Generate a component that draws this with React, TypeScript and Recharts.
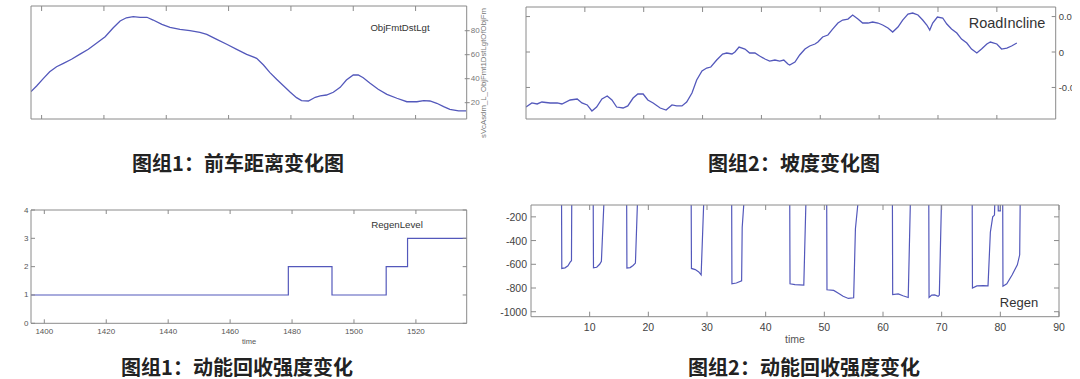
import { LineChart, Line, XAxis, YAxis } from 'recharts'

// panel 1: distance to front vehicle
const objX = [8.3, 9.2, 10.3, 11.3, 12.4, 13.5, 14.8, 16.1, 17.5, 18.8, 20.2, 21.5, 22.6, 23.6, 24.7, 25.8, 26.9, 27.9, 29.3, 30.6, 32.2, 33.8, 35.4, 36.5, 38.1, 39.7, 41.3, 42.9, 44.5, 45.6, 46.6, 47.7, 48.8, 49.9, 50.9, 51.7, 52.8, 53.9, 54.7, 55.7, 56.8, 57.9, 58.9, 60.0, 60.8, 61.6, 62.7, 64.0, 65.4, 67.0, 68.6, 70.2, 71.3, 72.3, 73.4, 74.5, 75.5, 76.9, 78.1]
const objDist = [29.2, 33.9, 40.3, 45.8, 50, 52.8, 56.2, 60.3, 64.5, 69.5, 75, 82.5, 88.1, 90.8, 91.7, 91.2, 91.2, 88.9, 85.3, 82.8, 81.2, 80, 78.7, 77, 72.8, 68.7, 64.5, 60.3, 57, 51.4, 45.3, 39.5, 34.2, 28.7, 24.2, 21.7, 21.4, 24.5, 25.6, 26.4, 28.7, 32.8, 38.9, 43.1, 43.1, 40.8, 36.2, 31.2, 27, 23.7, 20.8, 20.8, 21.7, 21.4, 19.5, 16.7, 14.5, 13.1, 13.1]
const objXTicks = [10, 20, 30, 40, 50, 60, 70]
const objYTicks = [20, 40, 60, 80]

// panel 2: road incline
const inclX = [0, 1.0, 1.9, 2.7, 4.1, 5.3, 6.1, 7.5, 8.7, 9.5, 10.4, 11.2, 12.0, 12.9, 13.8, 14.6, 15.4, 16.5, 17.3, 18.2, 19.0, 19.9, 20.7, 21.6, 22.8, 23.8, 24.8, 25.6, 26.5, 27.3, 28.2, 29.0, 29.9, 30.7, 31.4, 32.4, 33.4, 34.1, 35.0, 35.5, 36.2, 37.2, 38.0, 38.9, 39.7, 40.6, 41.4, 42.3, 43.1, 43.8, 44.5, 44.8, 45.7, 46.5, 47.4, 48.2, 49.1, 49.6, 50.4, 51.3, 52.1, 53.0, 53.8, 54.7, 55.5, 56.4, 57.2, 58.1, 58.9, 59.8, 60.6, 61.5, 62.3, 63.2, 64.0, 64.9, 65.7, 66.6, 67.4, 68.1, 68.6, 69.1, 69.9, 70.8, 71.5, 72.3, 73.2, 74.0, 74.9, 75.7, 76.6, 77.4, 78.3, 78.9, 80.0, 80.8, 81.7, 82.5, 83.4]
const inclVal = [-0.0776, -0.0719, -0.0733, -0.0705, -0.0719, -0.0719, -0.0733, -0.0677, -0.0663, -0.0719, -0.0747, -0.0832, -0.0776, -0.0663, -0.062, -0.0677, -0.0776, -0.079, -0.076, -0.0649, -0.0592, -0.0592, -0.0677, -0.0719, -0.079, -0.0818, -0.0747, -0.076, -0.076, -0.0705, -0.0578, -0.0395, -0.0268, -0.0226, -0.0212, -0.0113, -0.0028, -0.0014, -0.0028, 0, 0.007, 0.0042, -0.0014, -0.0014, -0.0056, -0.0099, -0.0127, -0.0113, -0.0127, -0.0113, -0.0169, -0.0183, -0.0141, -0.0042, 0.0042, 0.0085, 0.0113, 0.0141, 0.0212, 0.024, 0.0324, 0.0409, 0.0451, 0.0465, 0.0522, 0.0465, 0.0409, 0.0409, 0.0423, 0.0409, 0.0381, 0.0338, 0.0282, 0.0353, 0.0451, 0.0536, 0.055, 0.0522, 0.0451, 0.0381, 0.031, 0.0409, 0.0494, 0.048, 0.0395, 0.0324, 0.0268, 0.0183, 0.0127, 0.0042, -0.0014, 0.0042, 0.0113, 0.0141, 0.0113, 0.0042, 0.0056, 0.0085, 0.0127]
const inclXTicks = [10, 20, 30, 40, 50, 60, 70, 80]
const inclYTicks = [-0.05, 0, 0.05]

// panel 3: regen level (step)
const levelT = [1395.7, 1478.8, 1492.9, 1510.4, 1517.3, 1536.4]
const levelVal = [1, 2, 1, 2, 3, 3]
const levelXTicks = [1400, 1420, 1440, 1460, 1480, 1500, 1520]
const levelYTicks = [0, 1, 2, 3, 4]

// panel 4: regen torque
const regenT = [0, 5.2, 5.25, 5.8, 6.3, 6.7, 6.9, 6.95, 10.6, 10.65, 11.2, 11.7, 12.0, 12.5, 16.3, 16.35, 16.9, 17.4, 17.8, 18.2, 27.3, 27.35, 28.0, 28.6, 29.0, 29.5, 34.2, 34.25, 35.0, 35.9, 36.0, 36.4, 44.1, 44.15, 45.0, 46.5, 46.9, 50.4, 50.45, 51.6, 52.4, 53.2, 54.1, 55.0, 55.3, 55.9, 61.6, 61.65, 62.6, 63.4, 64.3, 64.7, 67.8, 67.85, 68.3, 68.8, 69.4, 69.6, 70.0, 75.2, 75.25, 76.0, 77.1, 77.9, 78.3, 78.7, 79.0, 79.1, 79.6, 79.65, 80.0, 80.05, 80.4, 80.45, 81.1, 82.0, 82.9, 83.3, 83.4, 90]
const regenVal = [0, 0, -635, -630, -612, -580, -570, 0, 0, -630, -625, -600, -575, 0, 0, -632, -628, -610, -590, 0, 0, -635, -645, -665, -690, 0, 0, -765, -758, -740, -290, 0, 0, -765, -772, -775, 0, 0, -815, -820, -845, -870, -888, -882, -300, 0, 0, -855, -850, -865, -880, 0, 0, -880, -860, -858, -870, -860, 0, 0, -800, -782, -780, -782, -330, -200, -185, 0, 0, -150, -150, 0, 0, -785, -765, -690, -605, -520, 0, 0]
const regenXTicks = [10, 20, 30, 40, 50, 60, 70, 80, 90]
const regenYTicks = [-1000, -800, -600, -400, -200]

const FRAME = '#8a8a8a'
const LINE = '#5358bb'
const SANS = 'Liberation Sans, Arial, sans-serif'

type Side = 'top' | 'bottom' | 'left' | 'right'
type TickOpts = { len?: number; out?: number; label?: boolean; font?: number; gap?: number; fill?: string }

// ticks point into the plot (matlab style), labels sit outside
function makeTick(side: Side, o: TickOpts = {}) {
  const len = o.len ?? 4
  const out = o.out ?? 0
  const gap = o.gap ?? 4
  return (p: any) => {
    const { x, y, payload } = p
    const txt = String(payload.value)
    let line
    let text = null
    const ts = { fontSize: o.font ?? 8, fill: o.fill ?? '#555', fontFamily: SANS }
    if (side === 'bottom') {
      line = <line x1={x} x2={x} y1={y + out} y2={y - len} stroke={FRAME} />
      if (o.label) text = <text x={x} y={y + gap} textAnchor="middle" dominantBaseline="central" style={ts}>{txt}</text>
    } else if (side === 'top') {
      line = <line x1={x} x2={x} y1={y - out} y2={y + len} stroke={FRAME} />
    } else if (side === 'left') {
      line = <line x1={x - out} x2={x + len} y1={y} y2={y} stroke={FRAME} />
      if (o.label) text = <text x={x - gap} y={y} textAnchor="end" dominantBaseline="central" style={ts}>{txt}</text>
    } else {
      line = <line x1={x + out} x2={x - len} y1={y} y2={y} stroke={FRAME} />
      if (o.label) text = <text x={x + gap} y={y} textAnchor="start" dominantBaseline="central" style={ts}>{txt}</text>
    }
    return <g>{line}{text}</g>
  }
}

type PanelProps = {
  left: number; top: number; width: number; height: number
  // plot box inside the chart svg
  box: { top: number; right: number; bottom: number; left: number }
  data: { x: number; y: number }[]
  xDomain: [number, number]; yDomain: [number, number]
  xTicks: number[]; yTicks: number[]
  ticks: Record<Side, any>
  step?: boolean
  strokeWidth?: number
}

function Panel(p: PanelProps) {
  const axisLine = { stroke: FRAME }
  // axes are 1px thick so recharts still renders them; margins shrink by that pixel
  const margin = { top: p.box.top - 1, left: p.box.left - 1, right: p.box.right - 1, bottom: p.box.bottom - 1 }
  return (
    <div style={{ position: 'absolute', left: p.left, top: p.top }}>
      <LineChart width={p.width} height={p.height} data={p.data} margin={margin}>
        <XAxis xAxisId="b" dataKey="x" type="number" orientation="bottom" domain={p.xDomain} ticks={p.xTicks} allowDataOverflow height={1} tickSize={0} tickMargin={0} tickLine={false} axisLine={axisLine} interval={0} tick={p.ticks.bottom} />
        <XAxis xAxisId="t" dataKey="x" type="number" orientation="top" domain={p.xDomain} ticks={p.xTicks} allowDataOverflow height={1} tickSize={0} tickMargin={0} tickLine={false} axisLine={axisLine} interval={0} tick={p.ticks.top} />
        <YAxis yAxisId="l" type="number" orientation="left" domain={p.yDomain} ticks={p.yTicks} allowDataOverflow width={1} tickSize={0} tickMargin={0} tickLine={false} axisLine={axisLine} interval={0} tick={p.ticks.left} />
        <YAxis yAxisId="r" type="number" orientation="right" domain={p.yDomain} ticks={p.yTicks} allowDataOverflow width={1} tickSize={0} tickMargin={0} tickLine={false} axisLine={axisLine} interval={0} tick={p.ticks.right} />
        <Line xAxisId="b" yAxisId="l" dataKey="y" type={p.step ? 'stepAfter' : 'linear'} stroke={LINE} strokeWidth={p.strokeWidth ?? 1.3} dot={false} isAnimationActive={false} />
      </LineChart>
    </div>
  )
}

const none = () => <g />

export default function App() {
  const objData = objX.map((x, i) => ({ x, y: objDist[i] }))
  const inclData = inclX.map((x, i) => ({ x, y: inclVal[i] }))
  const levelData = levelT.map((x, i) => ({ x, y: levelVal[i] }))
  const regenData = regenT.map((x, i) => ({ x, y: regenVal[i] }))

  return (
    <div style={{ position: 'fixed', left: 0, top: 0, width: 1080, height: 379, overflow: 'hidden', background: '#fff' }}>
      <Panel
        left={0} top={0} width={540} height={150}
        box={{ top: 6, left: 31, right: 73.3, bottom: 31 }}
        data={objData} xDomain={[8.3, 78.2]} yDomain={[6.4, 100.6]}
        xTicks={objXTicks} yTicks={objYTicks}
        ticks={{
          bottom: makeTick('bottom', { len: 4 }),
          top: makeTick('top', { len: 5 }),
          left: none,
          right: makeTick('right', { len: 2, out: 3, label: true, font: 8, gap: 4, fill: '#777' }),
        }}
      />
      {/* the source screenshot is cropped at ~1072, cutting the right-hand labels */}
      <Panel
        left={500} top={0} width={572} height={150}
        box={{ top: 7, left: 26, right: 16.3, bottom: 31 }}
        data={inclData} xDomain={[0, 90]} yDomain={[-0.0945, 0.0635]}
        xTicks={inclXTicks} yTicks={inclYTicks}
        ticks={{
          bottom: makeTick('bottom', { len: 4 }),
          top: makeTick('top', { len: 5 }),
          left: makeTick('left', { len: 4 }),
          right: makeTick('right', { len: 4, label: true, font: 9.5, gap: 3, fill: '#444' }),
        }}
      />
      <Panel
        left={0} top={190} width={540} height={189}
        box={{ top: 20, left: 31, right: 73.3, bottom: 55.7 }}
        data={levelData} xDomain={[1395.7, 1536.4]} yDomain={[0, 4]}
        xTicks={levelXTicks} yTicks={levelYTicks} step strokeWidth={1.2}
        ticks={{
          bottom: makeTick('bottom', { len: 4, label: true, font: 8, gap: 8.5 }),
          top: makeTick('top', { len: 4 }),
          left: makeTick('left', { len: 4, label: true, font: 8, gap: 2.5 }),
          right: makeTick('right', { len: 4 }),
        }}
      />
      <Panel
        left={500} top={190} width={580} height={189}
        box={{ top: 15, left: 31, right: 21, bottom: 62.3 }}
        data={regenData} xDomain={[0, 90]} yDomain={[-1042, -100]}
        xTicks={regenXTicks} yTicks={regenYTicks} strokeWidth={1.2}
        ticks={{
          bottom: makeTick('bottom', { len: 5, label: true, font: 10.5, gap: 10, fill: '#444' }),
          top: makeTick('top', { len: 5 }),
          left: makeTick('left', { len: 5, label: true, font: 10.5, gap: 4, fill: '#444' }),
          right: makeTick('right', { len: 5 }),
        }}
      />
      <svg width={1080} height={379} style={{ position: 'absolute', left: 0, top: 0, pointerEvents: 'none' }}>
        <g style={{ fontFamily: SANS }}>
          <text x={400} y={27} textAnchor="middle" dominantBaseline="central" fontSize={9.6} fill="#333">ObjFmtDstLgt</text>
          <text x={483} y={138} transform="rotate(-90 483 138)" dominantBaseline="central" fontSize={7.8} fill="#777">sVcAsdm_L_ObjFmt1DstLgtOfObjFm</text>
          <text x={1007} y={23} textAnchor="middle" dominantBaseline="central" fontSize={14.5} fill="#333">RoadIncline</text>
          <text x={397} y={224} textAnchor="middle" dominantBaseline="central" fontSize={9.7} fill="#333">RegenLevel</text>
          <text x={249} y={341} textAnchor="middle" dominantBaseline="central" fontSize={7.5} fill="#555">time</text>
          <text x={1019} y={302} textAnchor="middle" dominantBaseline="central" fontSize={13} fill="#333">Regen</text>
          <text x={795} y={339} textAnchor="middle" dominantBaseline="central" fontSize={10.5} fill="#555">time</text>
        </g>
        <g style={{ fontFamily: '"Noto Sans CJK SC", sans-serif', fontWeight: 700 }} fontSize={20} fill="#222" textAnchor="middle" dominantBaseline="central">
          <text x={238} y={162}>图组1：前车距离变化图</text>
          <text x={794} y={162}>图组2：坡度变化图</text>
          <text x={237} y={366}>图组1：动能回收强度变化</text>
          <text x={804} y={366}>图组2：动能回收强度变化</text>
        </g>
      </svg>
    </div>
  )
}
